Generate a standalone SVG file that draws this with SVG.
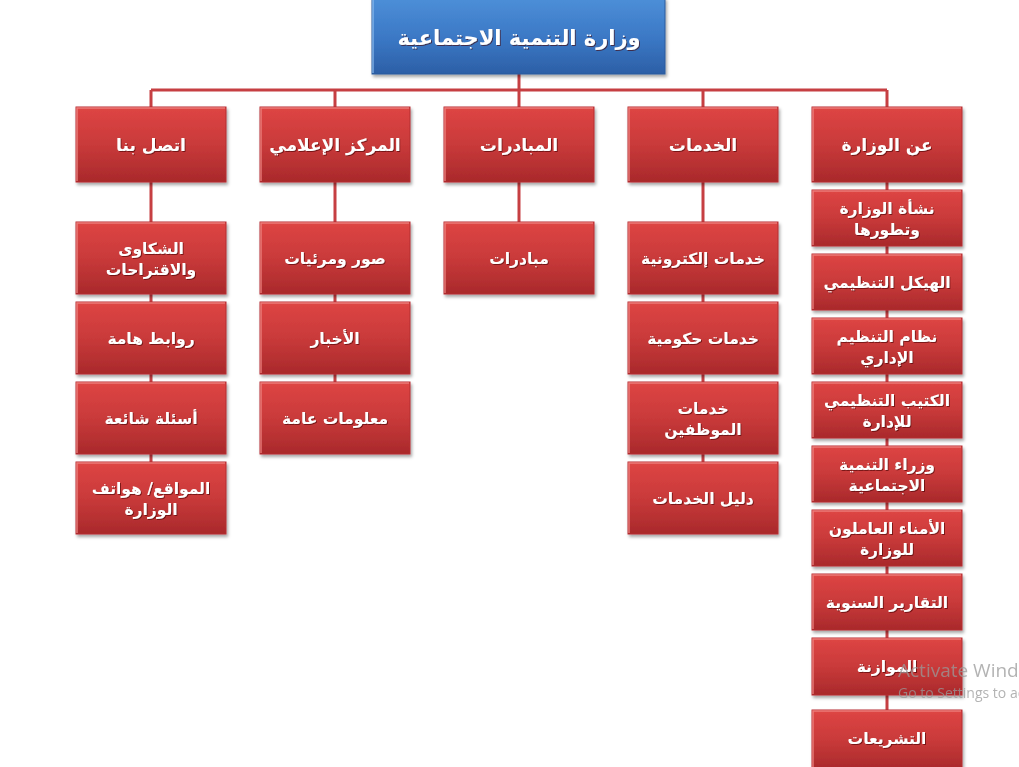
<svg xmlns="http://www.w3.org/2000/svg" width="1019" height="767" viewBox="0 0 1019 767">
<defs>
<linearGradient id="red" x1="0" y1="0" x2="0" y2="1">
<stop offset="0" stop-color="#de4544"/>
<stop offset="0.5" stop-color="#c93a3a"/>
<stop offset="1" stop-color="#a9292b"/>
</linearGradient>
<linearGradient id="blue" x1="0" y1="0" x2="0" y2="1">
<stop offset="0" stop-color="#4d8fd8"/>
<stop offset="0.55" stop-color="#3a77c4"/>
<stop offset="1" stop-color="#2c5fa6"/>
</linearGradient>
<filter id="sh" x="-10%" y="-10%" width="125%" height="130%">
<feDropShadow dx="1.5" dy="2.5" stdDeviation="1.5" flood-color="#000" flood-opacity="0.35"/>
</filter>
<filter id="tsh" x="-10%" y="-30%" width="120%" height="160%">
<feDropShadow dx="1" dy="1" stdDeviation="0.6" flood-color="#400" flood-opacity="0.6"/>
</filter>
</defs>
<style>
.box{fill:url(#red);stroke:#b52f31;stroke-width:1;filter:url(#sh)}
.top{fill:url(#blue);stroke:#2a5a9c;stroke-width:1;filter:url(#sh)}
.hl{fill:none;stroke:#f08a86;stroke-width:1.5;opacity:0.8}
.hlb{fill:none;stroke:#8fbef0;stroke-width:1.5;opacity:0.8}
.t{font-family:"DejaVu Sans",sans-serif;font-weight:bold;fill:#ffffff;text-anchor:middle;filter:url(#tsh)}
.l1{font-size:17px}
.l2{font-size:15.5px}
.ttl{font-size:21px}
.c{stroke:#c63f42;stroke-width:3;fill:none}
.wm{font-family:"Segoe UI","Open Sans",sans-serif;fill:#9a9a9a;opacity:0.75}
</style>
<g id="connectors">
<line class="c" x1="519" y1="74" x2="519" y2="90"/>
<line class="c" x1="151" y1="90" x2="887" y2="90"/>
<line class="c" x1="151" y1="90" x2="151" y2="534"/>
<line class="c" x1="335" y1="90" x2="335" y2="454"/>
<line class="c" x1="519" y1="90" x2="519" y2="294"/>
<line class="c" x1="703" y1="90" x2="703" y2="534"/>
<line class="c" x1="887" y1="90" x2="887" y2="767"/>
</g>
<g id="root">
<rect class="top" x="372" y="-2" width="293" height="76"/>
<polyline class="hlb" points="373,73 373,-1 664,-1"/>
<text class="t ttl" x="519" y="45">وزارة التنمية الاجتماعية</text>
</g>
<g id="n-contact">
<rect class="box" x="76" y="107" width="150" height="75"/>
<polyline class="hl" points="77,181 77,108 225,108"/>
<text class="t l1" x="151" y="151">اتصل بنا</text>
</g>
<g id="n-media">
<rect class="box" x="260" y="107" width="150" height="75"/>
<polyline class="hl" points="261,181 261,108 409,108"/>
<text class="t l1" x="335" y="151">المركز الإعلامي</text>
</g>
<g id="n-init">
<rect class="box" x="444" y="107" width="150" height="75"/>
<polyline class="hl" points="445,181 445,108 593,108"/>
<text class="t l1" x="519" y="151">المبادرات</text>
</g>
<g id="n-services">
<rect class="box" x="628" y="107" width="150" height="75"/>
<polyline class="hl" points="629,181 629,108 777,108"/>
<text class="t l1" x="703" y="151">الخدمات</text>
</g>
<g id="n-about">
<rect class="box" x="812" y="107" width="150" height="75"/>
<polyline class="hl" points="813,181 813,108 961,108"/>
<text class="t l1" x="887" y="151">عن الوزارة</text>
</g>
<g id="c1">
<rect class="box" x="76" y="222" width="150" height="72"/>
<polyline class="hl" points="77,293 77,223 225,223"/>
<text class="t l2" x="151" y="254">الشكاوى</text>
<text class="t l2" x="151" y="275">والاقتراحات</text>
</g>
<g id="c2">
<rect class="box" x="76" y="302" width="150" height="72"/>
<polyline class="hl" points="77,373 77,303 225,303"/>
<text class="t l2" x="151" y="344">روابط هامة</text>
</g>
<g id="c3">
<rect class="box" x="76" y="382" width="150" height="72"/>
<polyline class="hl" points="77,453 77,383 225,383"/>
<text class="t l2" x="151" y="424">أسئلة شائعة</text>
</g>
<g id="c4">
<rect class="box" x="76" y="462" width="150" height="72"/>
<polyline class="hl" points="77,533 77,463 225,463"/>
<text class="t l2" x="151" y="494">المواقع/ هواتف</text>
<text class="t l2" x="151" y="515">الوزارة</text>
</g>
<g id="m1">
<rect class="box" x="260" y="222" width="150" height="72"/>
<polyline class="hl" points="261,293 261,223 409,223"/>
<text class="t l2" x="335" y="264">صور ومرئيات</text>
</g>
<g id="m2">
<rect class="box" x="260" y="302" width="150" height="72"/>
<polyline class="hl" points="261,373 261,303 409,303"/>
<text class="t l2" x="335" y="344">الأخبار</text>
</g>
<g id="m3">
<rect class="box" x="260" y="382" width="150" height="72"/>
<polyline class="hl" points="261,453 261,383 409,383"/>
<text class="t l2" x="335" y="424">معلومات عامة</text>
</g>
<g id="i1">
<rect class="box" x="444" y="222" width="150" height="72"/>
<polyline class="hl" points="445,293 445,223 593,223"/>
<text class="t l2" x="519" y="264">مبادرات</text>
</g>
<g id="s1">
<rect class="box" x="628" y="222" width="150" height="72"/>
<polyline class="hl" points="629,293 629,223 777,223"/>
<text class="t l2" x="703" y="264">خدمات إلكترونية</text>
</g>
<g id="s2">
<rect class="box" x="628" y="302" width="150" height="72"/>
<polyline class="hl" points="629,373 629,303 777,303"/>
<text class="t l2" x="703" y="344">خدمات حكومية</text>
</g>
<g id="s3">
<rect class="box" x="628" y="382" width="150" height="72"/>
<polyline class="hl" points="629,453 629,383 777,383"/>
<text class="t l2" x="703" y="414">خدمات</text>
<text class="t l2" x="703" y="435">الموظفين</text>
</g>
<g id="s4">
<rect class="box" x="628" y="462" width="150" height="72"/>
<polyline class="hl" points="629,533 629,463 777,463"/>
<text class="t l2" x="703" y="504">دليل الخدمات</text>
</g>
<g id="a1">
<rect class="box" x="812" y="190" width="150" height="56"/>
<polyline class="hl" points="813,245 813,191 961,191"/>
<text class="t l2" x="887" y="214">نشأة الوزارة</text>
<text class="t l2" x="887" y="235">وتطورها</text>
</g>
<g id="a2">
<rect class="box" x="812" y="254" width="150" height="56"/>
<polyline class="hl" points="813,309 813,255 961,255"/>
<text class="t l2" x="887" y="288">الهيكل التنظيمي</text>
</g>
<g id="a3">
<rect class="box" x="812" y="318" width="150" height="56"/>
<polyline class="hl" points="813,373 813,319 961,319"/>
<text class="t l2" x="887" y="342">نظام التنظيم</text>
<text class="t l2" x="887" y="363">الإداري</text>
</g>
<g id="a4">
<rect class="box" x="812" y="382" width="150" height="56"/>
<polyline class="hl" points="813,437 813,383 961,383"/>
<text class="t l2" x="887" y="406">الكتيب التنظيمي</text>
<text class="t l2" x="887" y="427">للإدارة</text>
</g>
<g id="a5">
<rect class="box" x="812" y="446" width="150" height="56"/>
<polyline class="hl" points="813,501 813,447 961,447"/>
<text class="t l2" x="887" y="470">وزراء التنمية</text>
<text class="t l2" x="887" y="491">الاجتماعية</text>
</g>
<g id="a6">
<rect class="box" x="812" y="510" width="150" height="56"/>
<polyline class="hl" points="813,565 813,511 961,511"/>
<text class="t l2" x="887" y="534">الأمناء العاملون</text>
<text class="t l2" x="887" y="555">للوزارة</text>
</g>
<g id="a7">
<rect class="box" x="812" y="574" width="150" height="56"/>
<polyline class="hl" points="813,629 813,575 961,575"/>
<text class="t l2" x="887" y="608">التقارير السنوية</text>
</g>
<g id="a8">
<rect class="box" x="812" y="638" width="150" height="57"/>
<polyline class="hl" points="813,694 813,639 961,639"/>
<text class="t l2" x="887" y="672">الموازنة</text>
</g>
<g id="a9">
<rect class="box" x="812" y="710" width="150" height="60"/>
<polyline class="hl" points="813,769 813,711 961,711"/>
<text class="t l2" x="887" y="744">التشريعات</text>
</g>
<g id="watermark">
<text class="wm" x="898" y="677" font-size="19">Activate Windows</text>
<text class="wm" x="898" y="698" font-size="14">Go to Settings to activate Windows.</text>
</g>
</svg>
